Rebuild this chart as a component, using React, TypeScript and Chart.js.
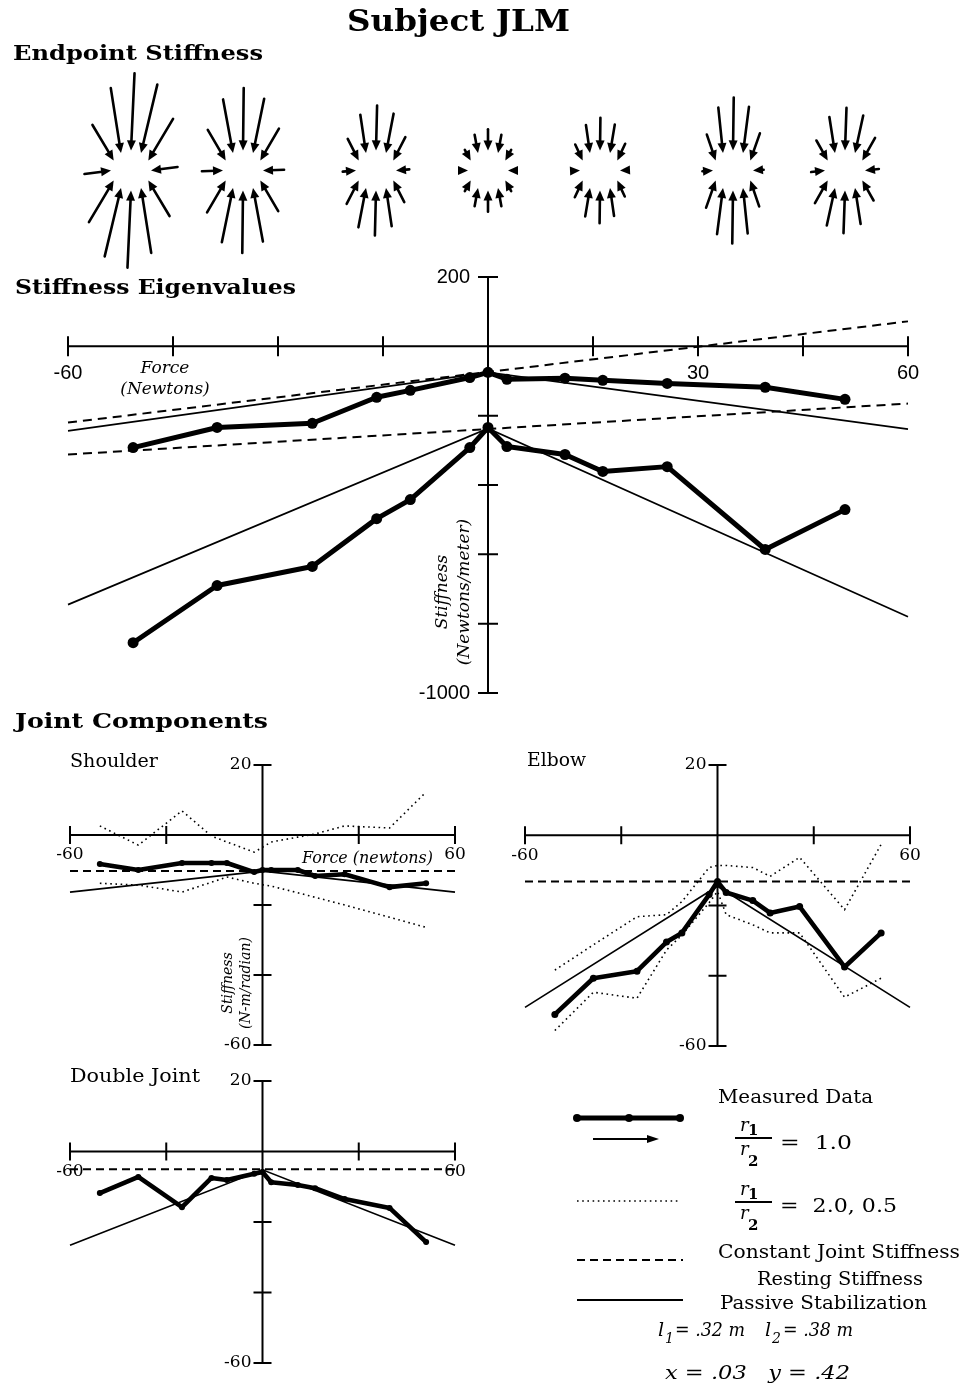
import React, { useEffect, useRef } from "react";
import { Chart, registerables } from "chart.js";
Chart.register(...registerables);

const PAGE_W = 977;
const PAGE_H = 1389;

// ---------------- data ----------------
// applied force (N) of each measurement
const forces = [-50.7, -38.7, -25.1, -15.9, -11.1, -2.6, 0, 2.7, 11, 16.4, 25.6, 39.6, 51];
// stiffness eigenvalues (N/m)
const eigSmall = [-292, -234, -222, -147, -127, -90, -75, -95, -92, -98, -107, -118, -153];
const eigLarge = [-855, -690, -635, -497, -442, -292, -234, -289, -312, -361, -347, -586, -471];
const constForces = [-60, 60];
const eigConstSmall = [-220, 72];
const eigConstLarge = [-312, -165];
const passiveForces = [-60, 0, 60];
const eigPassiveSmall = [-244, -75, -239];
const eigPassiveLarge = [-745, -237, -780];

// endpoint stiffness glyphs
const glyphForces = [-51, -35, -16, 0, 16, 35, 51];
const glyphIndex = [0, 1, 3, 6, 9, 11, 12];
const glyphTiltDeg = [4, 1, 2, 0, 1, 1, 3];

// joint components (N-m/radian)
const shoulderMeasured = [-8.3, -10, -8, -8, -8, -10.6, -10, -10, -10, -11.7, -11.2, -14.9, -13.8];
const shoulderHigh = [2.6, -2.9, 6.9, -0.3, -2.0, -4.9, -3.5, -2.0, -0.6, 0.3, 2.6, 2.0, 12.3];
const shoulderLow = [-13.8, -14.3, -16.3, -13.5, -12.0, -13.8, -14.2, -14.6, -16.5, -17.8, -20, -23.5, -26.4];
const shoulderConst = [-10.3, -10.3];
const shoulderPassive = [-16.3, -10.3, -16.3];

const elbowMeasured = [-51.0, -40.7, -38.7, -30.4, -27.8, -16.9, -13.2, -16.3, -18.6, -22.1, -20.3, -37.5, -27.8];
const elbowHigh = [-38.4, -31.2, -23.2, -22.6, -18.9, -9.2, -8.6, -8.6, -9.2, -11.7, -6.3, -21.2, -2.6];
const elbowLow = [-55.6, -44.7, -46.4, -32.7, -28.4, -19.2, -16, -22.6, -25.5, -27.8, -27.8, -46.1, -40.7];
const elbowConst = [-13.2, -13.2];
const elbowPassive = [-49, -14.5, -49];

const doubleMeasured = [-11.8, -7.2, -15.8, -7.5, -8.1, -6.3, -5.8, -8.7, -9.5, -10.4, -13.5, -16.0, -25.7];
const doubleConst = [-5.0, -5.0];
const doublePassive = [-26.6, -5.2, -26.6];

// ticks
const eigXTicks = [-60, -45, -30, -15, 0, 15, 30, 45, 60];
const eigXTickLabels = ["-60", "", "", "", "", "", "30", "", "60"];
const eigYTicks = [200, 0, -200, -400, -600, -800, -1000];
const eigYTickLabels = ["200", "", "", "", "", "", "-1000"];
const jointXTicks = [-60, -30, 0, 30, 60];
const jointXTickLabels = ["-60", "", "", "", "60"];
const jointYTicks = [20, 0, -20, -40, -60];
const jointYTickLabels = ["20", "", "", "", "-60"];

// ---------------- helpers ----------------
const SERIF = '"DejaVu Serif", serif';
const SANS = '"Liberation Sans", Arial, sans-serif';

const pts = (xs: number[], ys: (number | null)[]) => xs.map((x, i) => ({ x, y: ys[i] }));

const areaPad = (l: number, t: number, r: number, b: number) => ({
  left: l,
  top: t,
  right: PAGE_W - r,
  bottom: PAGE_H - b,
});

function measured(data: any, w: number, r: number) {
  return {
    data,
    borderColor: "#000",
    backgroundColor: "#000",
    borderWidth: w,
    pointRadius: r,
    pointHoverRadius: r,
    pointBackgroundColor: "#000",
    pointBorderWidth: 0,
    borderJoinStyle: "round",
    borderCapStyle: "round",
    tension: 0,
    fill: false,
    clip: false,
    spanGaps: true,
  };
}
function styled(data: any, w: number, dash: number[]) {
  return {
    data,
    borderColor: "#000",
    backgroundColor: "#000",
    borderWidth: w,
    borderDash: dash,
    pointRadius: 0,
    pointHoverRadius: 0,
    tension: 0,
    fill: false,
    clip: false,
    spanGaps: true,
  };
}

type AxisCfg = {
  xTicks: number[];
  xLabels: string[];
  yTicks: number[];
  yLabels: string[];
  tick: number;
  font: string;
  xLabelDy: number;
  yLabelDx: number;
  axisWidth: number;
};

function crossAxes(cfg: AxisCfg) {
  return {
    id: "crossAxes",
    beforeDatasetsDraw(chart: any) {
      const ctx = chart.ctx;
      const xs = chart.scales.x;
      const ys = chart.scales.y;
      const x0 = xs.getPixelForValue(0);
      const y0 = ys.getPixelForValue(0);
      ctx.save();
      ctx.strokeStyle = "#000";
      ctx.lineWidth = cfg.axisWidth;
      ctx.beginPath();
      ctx.moveTo(xs.getPixelForValue(xs.min), y0);
      ctx.lineTo(xs.getPixelForValue(xs.max), y0);
      ctx.moveTo(x0, ys.getPixelForValue(ys.max));
      ctx.lineTo(x0, ys.getPixelForValue(ys.min));
      cfg.xTicks.forEach((v) => {
        const p = xs.getPixelForValue(v);
        ctx.moveTo(p, y0 - cfg.tick);
        ctx.lineTo(p, y0 + cfg.tick);
      });
      cfg.yTicks.forEach((v) => {
        const p = ys.getPixelForValue(v);
        ctx.moveTo(x0 - cfg.tick, p);
        ctx.lineTo(x0 + cfg.tick, p);
      });
      ctx.stroke();
      ctx.fillStyle = "#000";
      ctx.font = cfg.font;
      ctx.textAlign = "center";
      ctx.textBaseline = "middle";
      cfg.xTicks.forEach((v, i) => {
        const t = cfg.xLabels[i];
        if (t) ctx.fillText(t, xs.getPixelForValue(v), y0 + cfg.xLabelDy);
      });
      ctx.textAlign = "right";
      cfg.yTicks.forEach((v, i) => {
        const t = cfg.yLabels[i];
        if (t) ctx.fillText(t, x0 - cfg.yLabelDx, ys.getPixelForValue(v));
      });
      ctx.restore();
    },
  };
}

const GLYPH_TIP_R = 20 / 7; // force units (7 px per N)
const GLYPH_GAIN = 0.09 / 7; // force units per N/m

const glyphPlugin = {
  id: "stiffnessGlyphs",
  afterDatasetsDraw(chart: any) {
    const ctx = chart.ctx;
    const xs = chart.scales.x;
    const ys = chart.scales.y;
    ctx.save();
    ctx.strokeStyle = "#000";
    ctx.fillStyle = "#000";
    ctx.lineWidth = 2.6;
    ctx.lineCap = "round";
    glyphForces.forEach((F, g) => {
      const i = glyphIndex[g];
      const lMin = -eigSmall[i];
      const lMaj = -eigLarge[i];
      const t = (glyphTiltDeg[g] * Math.PI) / 180;
      const mx = Math.sin(t), my = Math.cos(t);
      const nx = my, ny = -mx;
      const kxx = lMaj * mx * mx + lMin * nx * nx;
      const kxy = lMaj * mx * my + lMin * nx * ny;
      const kyy = lMaj * my * my + lMin * ny * ny;
      for (let a = 0; a < 12; a++) {
        const th = (a * Math.PI) / 6;
        const ux = Math.cos(th), uy = Math.sin(th);
        const tipX = F + GLYPH_TIP_R * ux;
        const tipY = GLYPH_TIP_R * uy;
        const tailX = tipX + GLYPH_GAIN * (kxx * ux + kxy * uy);
        const tailY = tipY + GLYPH_GAIN * (kxy * ux + kyy * uy);
        const tx = xs.getPixelForValue(tipX), ty = ys.getPixelForValue(tipY);
        const bx = xs.getPixelForValue(tailX), by = ys.getPixelForValue(tailY);
        const dx = tx - bx, dy = ty - by;
        const L = Math.hypot(dx, dy) || 1;
        const ex = dx / L, ey = dy / L;
        const HL = 10, HW = 4.5;
        if (L > HL) {
          ctx.beginPath();
          ctx.moveTo(bx, by);
          ctx.lineTo(tx - ex * HL * 0.7, ty - ey * HL * 0.7);
          ctx.stroke();
        }
        ctx.beginPath();
        ctx.moveTo(tx, ty);
        ctx.lineTo(tx - ex * HL - ey * HW, ty - ey * HL + ex * HW);
        ctx.lineTo(tx - ex * HL + ey * HW, ty - ey * HL - ex * HW);
        ctx.closePath();
        ctx.fill();
      }
    });
    ctx.restore();
  },
};

function baseOptions(pad: any, xmin: number, xmax: number, ymin: number, ymax: number) {
  return {
    responsive: false,
    maintainAspectRatio: false,
    animation: false,
    devicePixelRatio: 1,
    events: [],
    layout: { padding: pad },
    scales: {
      x: { type: "linear", min: xmin, max: xmax, display: false },
      y: { type: "linear", min: ymin, max: ymax, display: false },
    },
    plugins: { legend: { display: false }, tooltip: { enabled: false }, title: { display: false } },
  };
}

function ChartLayer({ make }: { make: () => any }) {
  const ref = useRef<HTMLCanvasElement>(null);
  useEffect(() => {
    const chart = new Chart(ref.current as HTMLCanvasElement, make());
    return () => chart.destroy();
  }, []);
  return (
    <canvas
      ref={ref}
      width={PAGE_W}
      height={PAGE_H}
      style={{ position: "absolute", left: 0, top: 0, width: PAGE_W, height: PAGE_H }}
    />
  );
}

const jointAxes = () =>
  crossAxes({
    xTicks: jointXTicks,
    xLabels: jointXTickLabels,
    yTicks: jointYTicks,
    yLabels: jointYTickLabels,
    tick: 9,
    font: `17px ${SERIF}`,
    xLabelDy: 20,
    yLabelDx: 11,
    axisWidth: 2,
  });

const makeGlyphs = () => ({
  type: "scatter",
  data: { datasets: [{ data: pts(glyphForces, glyphForces.map(() => 0)), pointRadius: 0, showLine: false }] },
  options: baseOptions(areaPad(68, 65, 908, 276), -60, 60, -15, 15),
  plugins: [glyphPlugin],
});

const makeEigen = () => ({
  type: "line",
  data: {
    datasets: [
      measured(pts(forces, eigSmall), 5, 5.5),
      measured(pts(forces, eigLarge), 5, 5.5),
      styled(pts(constForces, eigConstSmall), 2, [9, 6]),
      styled(pts(constForces, eigConstLarge), 2, [9, 6]),
      styled(pts(passiveForces, eigPassiveSmall), 1.7, []),
      styled(pts(passiveForces, eigPassiveLarge), 1.7, []),
    ],
  },
  options: baseOptions(areaPad(68, 277, 908, 693), -60, 60, -1000, 200),
  plugins: [
    crossAxes({
      xTicks: eigXTicks,
      xLabels: eigXTickLabels,
      yTicks: eigYTicks,
      yLabels: eigYTickLabels,
      tick: 10,
      font: `20px ${SANS}`,
      xLabelDy: 27,
      yLabelDx: 18,
      axisWidth: 2,
    }),
  ],
});

const makeShoulder = () => ({
  type: "line",
  data: {
    datasets: [
      measured(pts(forces, shoulderMeasured), 4.6, 3),
      styled(pts(forces, shoulderHigh), 1.6, [1.6, 3.6]),
      styled(pts(forces, shoulderLow), 1.6, [1.6, 3.6]),
      styled(pts(constForces, shoulderConst), 2, [8, 5]),
      styled(pts(passiveForces, shoulderPassive), 1.7, []),
    ],
  },
  options: baseOptions(areaPad(70, 765, 455, 1045), -60, 60, -60, 20),
  plugins: [jointAxes()],
});

const makeElbow = () => ({
  type: "line",
  data: {
    datasets: [
      measured(pts(forces, elbowMeasured), 4.6, 3.5),
      styled(pts(forces, elbowHigh), 1.6, [1.6, 3.6]),
      styled(pts(forces, elbowLow), 1.6, [1.6, 3.6]),
      styled(pts(constForces, elbowConst), 2, [8, 5]),
      styled(pts(passiveForces, elbowPassive), 1.7, []),
    ],
  },
  options: baseOptions(areaPad(525, 765, 910, 1046), -60, 60, -60, 20),
  plugins: [jointAxes()],
});

const makeDouble = () => ({
  type: "line",
  data: {
    datasets: [
      measured(pts(forces, doubleMeasured), 4.6, 3),
      styled(pts(constForces, doubleConst), 2, [8, 5]),
      styled(pts(passiveForces, doublePassive), 1.7, []),
    ],
  },
  options: baseOptions(areaPad(70, 1081, 455, 1363), -60, 60, -60, 20),
  plugins: [jointAxes()],
});

// ---------------- text ----------------
const measureCtx: CanvasRenderingContext2D | null =
  typeof document !== "undefined" ? document.createElement("canvas").getContext("2d") : null;

function Txt(props: {
  x: number;
  y: number;
  text: string;
  size: number;
  weight?: number;
  italic?: boolean;
  family?: string;
  w?: number;
  align?: "left" | "center";
}) {
  const { x, y, text, size, weight = 400, italic = false, family = SERIF, w, align = "left" } = props;
  const font = `${italic ? "italic " : ""}${weight} ${size}px ${family}`;
  let natural = text.length * size * 0.6;
  if (measureCtx) {
    measureCtx.font = font;
    natural = measureCtx.measureText(text).width;
  }
  const sx = w ? w / natural : 1;
  const width = w ?? natural;
  const left = align === "center" ? x - width / 2 : x;
  return (
    <div
      style={{
        position: "absolute",
        left,
        top: y - 0.846 * size,
        font,
        lineHeight: `${size}px`,
        whiteSpace: "pre",
        transform: `scaleX(${sx})`,
        transformOrigin: "0 0",
        color: "#000",
      }}
    >
      {text}
    </div>
  );
}

function VText(props: { cx: number; cy: number; lines: string[]; size: number; lh: number; weight?: number }) {
  const { cx, cy, lines, size, lh, weight = 400 } = props;
  const boxW = 300;
  const boxH = lh * lines.length;
  return (
    <div
      style={{
        position: "absolute",
        left: cx - boxW / 2,
        top: cy - boxH / 2,
        width: boxW,
        height: boxH,
        transform: "rotate(-90deg)",
        transformOrigin: "50% 50%",
        textAlign: "center",
        font: `italic ${weight} ${size}px ${SERIF}`,
        lineHeight: `${lh}px`,
        color: "#000",
      }}
    >
      {lines.map((l, i) => (
        <div key={i}>{l}</div>
      ))}
    </div>
  );
}

function Legend() {
  return (
    <svg width={PAGE_W} height={PAGE_H} style={{ position: "absolute", left: 0, top: 0 }}>
      <line x1={577} y1={1118} x2={680} y2={1118} stroke="#000" strokeWidth={5} />
      {[577, 629, 680].map((cx) => (
        <circle key={cx} cx={cx} cy={1118} r={4} fill="#000" />
      ))}
      <line x1={593} y1={1139} x2={648} y2={1139} stroke="#000" strokeWidth={2} />
      <polygon points="659,1139 647,1135 647,1143" fill="#000" />
      <line x1={577} y1={1201} x2={680} y2={1201} stroke="#000" strokeWidth={1.6} strokeDasharray="1.6 3.6" />
      <line x1={577} y1={1260} x2={683} y2={1260} stroke="#000" strokeWidth={2} strokeDasharray="8 5" />
      <line x1={577} y1={1300} x2={683} y2={1300} stroke="#000" strokeWidth={1.8} />
      <line x1={735} y1={1138} x2={772} y2={1138} stroke="#000" strokeWidth={1.8} />
      <line x1={735} y1={1202} x2={772} y2={1202} stroke="#000" strokeWidth={1.8} />
    </svg>
  );
}

export default function App() {
  return (
    <div style={{ position: "absolute", left: 0, top: 0, width: PAGE_W, height: PAGE_H, background: "#fff" }}>
      <ChartLayer make={makeGlyphs} />
      <ChartLayer make={makeEigen} />
      <ChartLayer make={makeShoulder} />
      <ChartLayer make={makeElbow} />
      <ChartLayer make={makeDouble} />
      <Legend />

      <Txt x={347} y={32} text="Subject JLM" size={29} weight={700} w={223} />
      <Txt x={13} y={60} text="Endpoint Stiffness" size={21} weight={700} w={250} />
      <Txt x={15} y={294} text="Stiffness Eigenvalues" size={20} weight={700} w={281} />
      <Txt x={15} y={728} text="Joint Components" size={20} weight={700} w={253} />

      <Txt x={165} y={373} text="Force" size={17} italic align="center" />
      <Txt x={165} y={394} text="(Newtons)" size={17} italic align="center" />
      <VText cx={452} cy={592} lines={["Stiffness", "(Newtons/meter)"]} size={17} lh={22} />

      <Txt x={70} y={767} text="Shoulder" size={19} w={88} />
      <Txt x={527} y={766} text="Elbow" size={19} w={59} />
      <Txt x={70} y={1082} text="Double Joint" size={19} w={130} />
      <Txt x={302} y={864} text="Force (newtons)" size={16} italic w={131} />
      <VText cx={236} cy={983} lines={["Stiffness", "(N-m/radian)"]} size={14} lh={18} />

      <Txt x={718} y={1103} text="Measured Data" size={19} w={155} />
      <Txt x={740} y={1131} text="r" size={18} italic />
      <Txt x={748} y={1136} text="1" size={15} weight={700} />
      <Txt x={740} y={1155} text="r" size={18} italic />
      <Txt x={748} y={1167} text="2" size={15} weight={700} />
      <Txt x={780} y={1149} text="=  1.0" size={19} w={72} />
      <Txt x={740} y={1195} text="r" size={18} italic />
      <Txt x={748} y={1200} text="1" size={15} weight={700} />
      <Txt x={740} y={1219} text="r" size={18} italic />
      <Txt x={748} y={1231} text="2" size={15} weight={700} />
      <Txt x={780} y={1212} text="=  2.0, 0.5" size={19} w={117} />
      <Txt x={718} y={1258} text="Constant Joint Stiffness" size={19} w={242} />
      <Txt x={757} y={1285} text="Resting Stiffness" size={19} w={166} />
      <Txt x={720} y={1309} text="Passive Stabilization" size={19} w={207} />
      <Txt x={658} y={1336} text="l" size={19} italic />
      <Txt x={665} y={1343} text="1" size={14} italic />
      <Txt x={675} y={1336} text="= .32 m" size={19} italic w={70} />
      <Txt x={765} y={1336} text="l" size={19} italic />
      <Txt x={772} y={1343} text="2" size={14} italic />
      <Txt x={783} y={1336} text="= .38 m" size={19} italic w={70} />
      <Txt x={665} y={1379} text="x = .03   y = .42" size={19} italic w={185} />
    </div>
  );
}
